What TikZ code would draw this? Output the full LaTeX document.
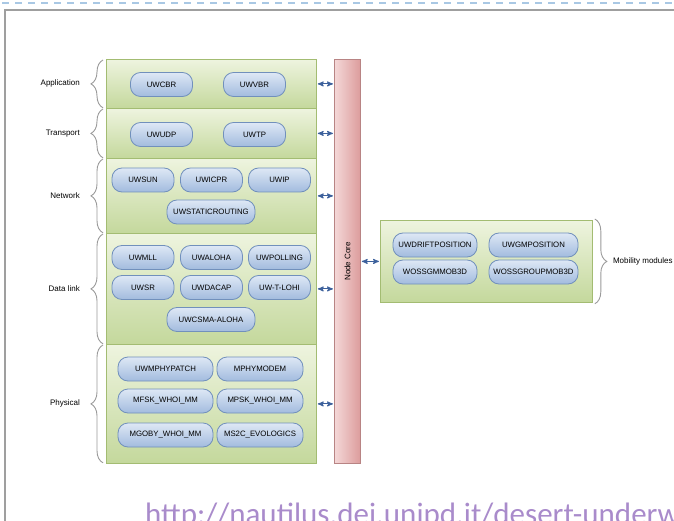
\documentclass[tikz,border=0pt]{standalone}
\usepackage{fontspec}
\setmainfont{Liberation Sans}
\newfontfamily\urlfont{Carlito}
\usetikzlibrary{arrows,positioning,decorations.pathreplacing}

\definecolor{layertop}{HTML}{EEF4DF}
\definecolor{layerbot}{HTML}{C4D89C}
\definecolor{layerline}{HTML}{A3BC72}
\definecolor{modtop}{HTML}{DEE8F5}
\definecolor{modbot}{HTML}{A2BBDE}
\definecolor{modline}{HTML}{7190BC}
\definecolor{coreleft}{HTML}{F4D8D8}
\definecolor{coreright}{HTML}{DC9C9C}
\definecolor{coreline}{HTML}{B88484}
\definecolor{arrowblue}{HTML}{3D619C}
\definecolor{bracegray}{HTML}{9A9A9A}
\definecolor{urlpurple}{HTML}{A98BCB}
\definecolor{dashblue}{HTML}{A9C8E4}

\begin{document}
\begin{tikzpicture}[x=1pt,y=-1pt,>=stealth',
  layer box/.style={draw=layerline,line width=0.8pt,top color=layertop,bottom color=layerbot,
    minimum width=210pt,anchor=north west,inner sep=0pt},
  module node/.style={draw=modline,line width=0.8pt,top color=modtop,bottom color=modbot,
    rounded corners=10pt,minimum height=24pt,minimum width=62pt,inner sep=1pt,
    font=\fontsize{7.8}{9}\selectfont},
  layer label/.style={font=\fontsize{8}{10}\selectfont,inner sep=0pt},
  layer brace/.style={draw=bracegray,line width=0.9pt,decorate,decoration={brace,amplitude=12pt}},
  link/.style={<->,draw=arrowblue,line width=1.1pt,shorten <=1pt,shorten >=1pt}]

 \useasboundingbox (0,0) rectangle (674,521);
 \clip (0,0) rectangle (674,521);

 % slide frame
 \draw[dashblue,line width=1.4pt,dash pattern=on 7pt off 6pt] (2,3) -- (674,3);
 \draw[gray!75,line width=1.4pt] (5,521) -- (5,10) -- (674,10);

 % protocol layers
 \node[layer box,minimum height=49pt] (app) at (106,59) {};
 \node[layer box,minimum height=50pt] (trans) at (106,108) {};
 \node[layer box,minimum height=75pt] (net) at (106,158) {};
 \node[layer box,minimum height=111pt] (link) at (106,233) {};
 \node[layer box,minimum height=119pt] (phy) at (106,344) {};

 % node core
 \node[draw=coreline,line width=0.8pt,left color=coreleft,right color=coreright,
   minimum width=26pt,minimum height=404pt,anchor=north west] (core) at (334,59) {};
 \node[rotate=90,font=\fontsize{8}{10}\selectfont] (corelabel) at (core.center) {Node Core};

 % mobility
 \node[layer box,minimum width=212pt,minimum height=82pt] (mob) at (380,220) {};

 % modules
 \node[module node] (cbr) at (161.5,84.5) {UWCBR};
 \node[module node] (vbr) at (254.5,84.5) {UWVBR};

 \node[module node] (udp) at (161.5,134.5) {UWUDP};
 \node[module node] (tp) at (254.5,134.5) {UWTP};

 \node[module node] (sun) at (143,180) {UWSUN};
 \node[module node] (icpr) at (211.5,180) {UWICPR};
 \node[module node] (ip) at (279.5,180) {UWIP};
 \node[module node,minimum width=88pt] (static) at (211,212) {UWSTATICROUTING};

 \node[module node] (mll) at (143,257.5) {UWMLL};
 \node[module node] (aloha) at (211.5,257.5) {UWALOHA};
 \node[module node] (polling) at (279.5,257.5) {UWPOLLING};
 \node[module node] (sr) at (143,287.5) {UWSR};
 \node[module node] (dacap) at (211.5,287.5) {UWDACAP};
 \node[module node] (tlohi) at (279.5,287.5) {UW-T-LOHI};
 \node[module node,minimum width=88pt] (csma) at (211,319.5) {UWCSMA-ALOHA};

 \node[module node,minimum width=95pt] (phypatch) at (165.5,369) {UWMPHYPATCH};
 \node[module node,minimum width=86pt] (modem) at (260,369) {MPHYMODEM};
 \node[module node,minimum width=95pt] (mfsk) at (165.5,401) {MFSK\_WHOI\_MM};
 \node[module node,minimum width=86pt] (mpsk) at (260,401) {MPSK\_WHOI\_MM};
 \node[module node,minimum width=95pt] (mgoby) at (165.5,435) {MGOBY\_WHOI\_MM};
 \node[module node,minimum width=86pt] (ms2c) at (260,435) {MS2C\_EVOLOGICS};

 \node[module node,minimum width=84pt] (drift) at (435,245) {UWDRIFTPOSITION};
 \node[module node,minimum width=89pt] (gmpos) at (533.5,245) {UWGMPOSITION};
 \node[module node,minimum width=84pt] (gmmob) at (435,272) {WOSSGMMOB3D};
 \node[module node,minimum width=89pt] (groupmob) at (533.5,272) {WOSSGROUPMOB3D};

 % braces and labels
 \draw[layer brace] ([xshift=-3pt,yshift=1pt]app.south west) -- ([xshift=-3pt,yshift=-1pt]app.north west);
 \draw[layer brace] ([xshift=-3pt,yshift=1pt]trans.south west) -- ([xshift=-3pt,yshift=-1pt]trans.north west);
 \draw[layer brace] ([xshift=-3pt,yshift=1pt]net.south west) -- ([xshift=-3pt,yshift=-1pt]net.north west);
 \draw[layer brace] ([xshift=-3pt,yshift=1pt]link.south west) -- ([xshift=-3pt,yshift=-1pt]link.north west);
 \draw[layer brace] ([xshift=-3pt,yshift=1pt]phy.south west) -- ([xshift=-3pt,yshift=-1pt]phy.north west);
 \draw[layer brace] ([xshift=2pt,yshift=1pt]mob.north east) -- ([xshift=2pt,yshift=-1pt]mob.south east);

 \node[layer label,left=26pt of app.west] (applabel) {Application};
 \node[layer label,left=26pt of trans.west] (translabel) {Transport};
 \node[layer label,left=26pt of net.west] (netlabel) {Network};
 \node[layer label,left=26pt of link.west] (linklabel) {Data link};
 \node[layer label,left=26pt of phy.west] (phylabel) {Physical};
 \node[layer label,right=20pt of mob.east] (moblabel) {Mobility modules};

 % connections to the core
 \draw[link] (app.east) -- (app.east -| core.west);
 \draw[link] (trans.east) -- (trans.east -| core.west);
 \draw[link] (net.east) -- (net.east -| core.west);
 \draw[link] (link.east) -- (link.east -| core.west);
 \draw[link] (phy.east) -- (phy.east -| core.west);
 \draw[link] (core.east |- mob.west) -- (mob.west);

 % address
 \node[anchor=base west,inner sep=0pt,text=urlpurple,font=\urlfont\fontsize{31}{36}\selectfont]
   (url) at (145,524) {http://nautilus.dei.unipd.it/desert-underwater};

\end{tikzpicture}
\end{document}
